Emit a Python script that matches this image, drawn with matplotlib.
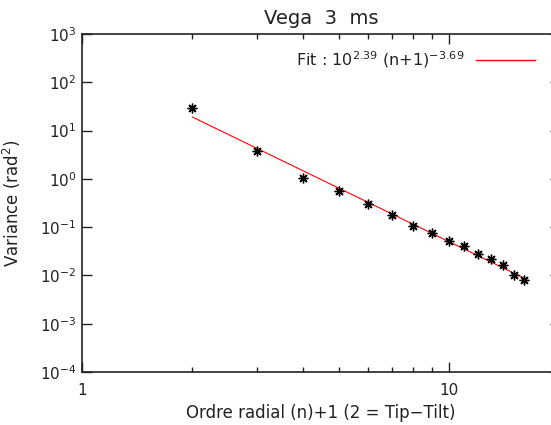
import numpy as np
import matplotlib
matplotlib.use('Agg')
import matplotlib.pyplot as plt
from matplotlib.ticker import FixedLocator, FixedFormatter, LogLocator, NullLocator, NullFormatter

# data (radial order + 1, variance in rad^2)
ordre = [2, 3, 4, 5, 6, 7, 8, 9, 10, 11, 12, 13, 14, 15, 16]
variance = [29.0, 3.7, 1.05, 0.55, 0.30, 0.175, 0.105, 0.075, 0.051,
            0.041, 0.028, 0.022, 0.0165, 0.0103, 0.0081]

# fit parameters shown in the legend
fit_a = 2.39
fit_b = -3.69

plt.rcParams['font.family'] = ['DejaVu Sans']
plt.rcParams['mathtext.fontset'] = 'dejavusans'

fig = plt.figure(figsize=(5.51, 4.25), dpi=100)
ax = fig.add_axes([82/551, 1-372/425, (559.5-82)/551, (372-34)/425])

x = np.array(ordre, dtype=float)
fit = 10**fit_a * x**fit_b
ax.plot(x, fit, color='red', lw=0.8)
ax.plot(ordre, variance, ls='none', marker=(8, 2, 0), ms=7, mew=1.0, color='black')

ax.set_xscale('log')
ax.set_yscale('log')
ax.set_xlim(1, 20)
ax.set_ylim(1e-4, 1e3)

ax.xaxis.set_major_locator(FixedLocator([1, 10]))
ax.xaxis.set_major_formatter(FixedFormatter(['1', '10']))
ax.xaxis.set_minor_locator(FixedLocator([2, 3, 4, 5, 6, 7, 8, 9, 20]))
ax.xaxis.set_minor_formatter(NullFormatter())
ax.yaxis.set_major_locator(LogLocator(base=10, numticks=10))
ax.yaxis.set_minor_locator(NullLocator())
ax.yaxis.set_minor_formatter(NullFormatter())

ax.tick_params(which='both', direction='in', top=True, right=True, labelsize=11,
               width=1, colors='#222222')
ax.tick_params(which='major', length=7.2, pad=8)
ax.tick_params(which='minor', length=3.6)
ax.tick_params(axis='y', pad=4)
for s in ax.spines.values():
    s.set_linewidth(1.2)
    s.set_color('#222222')

ax.set_title('Vega  3  ms', fontsize=14, pad=7, color='#222222')
ax.set_xlabel('Ordre radial (n)+1 (2 = Tip\u2212Tilt)', fontsize=12, labelpad=4, color='#222222')
ax.set_ylabel('Variance (rad$^2$)', fontsize=12, labelpad=12, color='#222222')

# legend drawn as in the original: text then a short red line
ax.text(0.624, 0.923, 'Fit : 10$^{%.2f}$ (n+1)$^{%.2f}$' % (fit_a, fit_b),
        transform=ax.transAxes, fontsize=11.5, va='center', ha='center', color='#222222')
ax.plot([0.825, 0.949], [0.923, 0.923], transform=ax.transAxes, color='red', lw=1)

fig.savefig('out.png', dpi=100)
